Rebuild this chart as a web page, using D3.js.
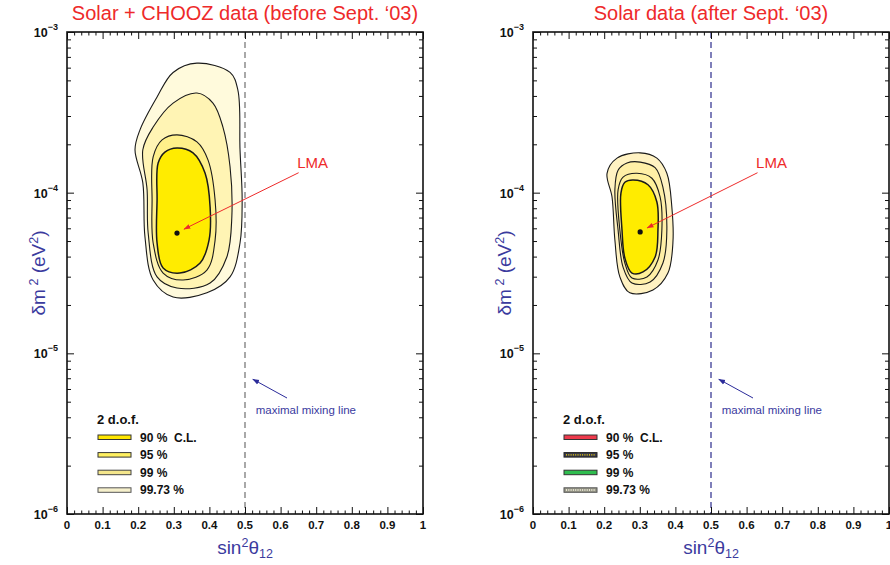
<!DOCTYPE html>
<html><head><meta charset="utf-8">
<script src="https://cdn.jsdelivr.net/npm/d3@7"></script>
<style>body{margin:0;background:#fff}svg{display:block}</style>
</head><body>
<svg id="c" width="890" height="565"></svg>
<script>
// ---------- DATA ----------
const titles = ["Solar + CHOOZ data (before Sept. \u201803)", "Solar data (after Sept. \u201803)"];
const xTickLabels = ["0","0.1","0.2","0.3","0.4","0.5","0.6","0.7","0.8","0.9","1"];
const yTickValues = [1e-3, 1e-4, 1e-5, 1e-6];
const yTickExps = ["\u22123","\u22124","\u22125","\u22126"];
const clLabels = ["90 %  C.L.", "95 %", "99 %", "99.73 %"];

// Left panel contours: [sin^2 theta12, dm^2 (eV^2)]
const leftCL9973 = [[0.365,6.4e-4],[0.458,5.6e-4],[0.480,4.35e-4],[0.486,1.85e-4],[0.492,9.0e-5],[0.486,4.86e-5],[0.458,2.99e-5],[0.393,2.38e-5],[0.298,2.24e-5],[0.242,2.86e-5],[0.219,5.3e-5],[0.213,1.15e-4],[0.191,1.85e-4],[0.205,2.46e-4],[0.253,3.94e-4],[0.298,5.6e-4]];
const leftCL99 = [[0.365,4.17e-4],[0.410,3.61e-4],[0.438,2.56e-4],[0.458,1.45e-4],[0.463,7.06e-5],[0.449,3.98e-5],[0.402,2.74e-5],[0.309,2.55e-5],[0.253,2.99e-5],[0.228,5.61e-5],[0.225,1.04e-4],[0.213,1.85e-4],[0.242,2.56e-4],[0.298,3.61e-4]];
const leftCL95 = [[0.309,2.29e-4],[0.365,2.07e-4],[0.396,1.60e-4],[0.416,9.0e-5],[0.416,5.07e-5],[0.393,3.30e-5],[0.326,2.86e-5],[0.270,3.16e-5],[0.242,4.86e-5],[0.239,9.0e-5],[0.242,1.67e-4],[0.267,2.13e-4]];
const leftCL90 = [[0.309,1.90e-4],[0.354,1.77e-4],[0.388,1.32e-4],[0.402,8.15e-5],[0.399,5.07e-5],[0.374,3.65e-5],[0.317,3.16e-5],[0.270,3.40e-5],[0.253,4.86e-5],[0.253,9.0e-5],[0.256,1.53e-4],[0.275,1.79e-4]];
const leftBest = [0.309, 5.6e-5];

// Right panel contours
const rightCL9973 = [[0.301,1.77e-4],[0.348,1.64e-4],[0.376,1.32e-4],[0.390,8.15e-5],[0.393,4.86e-5],[0.379,3.16e-5],[0.337,2.48e-5],[0.272,2.38e-5],[0.244,2.99e-5],[0.230,5.07e-5],[0.222,9.4e-5],[0.208,1.32e-4],[0.236,1.64e-4]];
const rightCL99 = [[0.301,1.55e-4],[0.343,1.43e-4],[0.365,1.08e-4],[0.376,5.86e-5],[0.365,3.65e-5],[0.329,2.78e-5],[0.278,2.74e-5],[0.253,3.44e-5],[0.239,5.86e-5],[0.230,1.04e-4],[0.239,1.38e-4],[0.264,1.53e-4]];
const rightCL95 = [[0.292,1.32e-4],[0.334,1.23e-4],[0.357,9.4e-5],[0.362,5.86e-5],[0.351,3.81e-5],[0.320,2.99e-5],[0.278,2.94e-5],[0.258,3.65e-5],[0.244,5.86e-5],[0.239,1.04e-4],[0.253,1.25e-4]];
const rightCL90 = [[0.281,1.20e-4],[0.323,1.12e-4],[0.348,8.75e-5],[0.351,5.86e-5],[0.343,3.98e-5],[0.309,3.21e-5],[0.278,3.16e-5],[0.258,3.92e-5],[0.250,5.86e-5],[0.247,9.95e-5],[0.258,1.16e-4]];
const rightBest = [0.301, 5.7e-5];

// annotation anchor points (data coords)
const lmaLabelPos = [[0.69, 1.43e-4],[0.67, 1.43e-4]];
const mixArrow = [[0.618, 5.27e-6],[0.522, 6.9e-6]];
const mixTextPos = [0.53, 4.2e-6];

// ---------- DRAW ----------
const svg = d3.select("#c");
const FONT = "'Liberation Sans', Arial, Helvetica, sans-serif";
const panels = [
  {x0:67, x1:423, contours:[leftCL9973,leftCL99,leftCL95,leftCL90], best:leftBest,
   fills:["#fffadc","#fff4b4","#fff08a","#ffec00"], dash:"#707070",
   legend:[{fill:"#ffe600",stroke:"#333"},{fill:"#fff060",stroke:"#333"},{fill:"#f4e68c",stroke:"#444"},{fill:"#f6f0cc",stroke:"#555"}]},
  {x0:533, x1:889, contours:[rightCL9973,rightCL99,rightCL95,rightCL90], best:rightBest,
   fills:["#fff2c2","#ffefa6","#fff09a","#ffec00"], dash:"#2b2b8c",
   legend:[{fill:"#ee3a4c",stroke:"#333"},{fill:"#3a3a4a",stroke:"#222",dot:"#ffe000"},{fill:"#2fbd4f",stroke:"#333"},{fill:"#9a9a8a",stroke:"#555",dot:"#fffbe8"}]}
];

const defs = svg.append("defs");
function marker(id, color){
  defs.append("marker").attr("id",id).attr("viewBox","0 0 10 10").attr("refX",9).attr("refY",5)
    .attr("markerWidth",7).attr("markerHeight",7).attr("orient","auto-start-reverse")
    .append("path").attr("d","M0,1.5 L10,5 L0,8.5 z").attr("fill",color);
}
marker("arrRed","#ee2a2a");
marker("arrBlue","#2b2b9a");

panels.forEach((p, i) => {
  const top = 32, bottom = 514;
  const x = d3.scaleLinear().domain([0,1]).range([p.x0, p.x1]);
  const y = d3.scaleLog().domain([1e-6,1e-3]).range([bottom, top]);
  const g = svg.append("g");
  const cx = (p.x0 + p.x1)/2;

  // title
  g.append("text").attr("x", cx).attr("y", 20).attr("text-anchor","middle")
    .attr("font-family",FONT).attr("font-size",20).attr("fill","#ee2a2a").text(titles[i]);

  // contours
  const line = d3.line().x(d=>x(d[0])).y(d=>y(d[1])).curve(d3.curveCatmullRomClosed.alpha(0.5));
  p.contours.forEach((c, k) => {
    g.append("path").attr("d", line(c)).attr("fill", p.fills[k])
      .attr("stroke","#1a1a1a").attr("stroke-width", k===3 ? 1.5 : 1.1);
  });
  g.append("circle").attr("cx", x(p.best[0])).attr("cy", y(p.best[1])).attr("r", 2.6).attr("fill","#111");

  // dashed max mixing line
  g.append("line").attr("x1",x(0.5)).attr("x2",x(0.5)).attr("y1",top).attr("y2",bottom)
    .attr("stroke",p.dash).attr("stroke-width",1.2).attr("stroke-dasharray","6,4");

  // LMA label + arrow
  const lp = lmaLabelPos[i];
  g.append("text").attr("x", x(lp[0])).attr("y", y(lp[1])).attr("text-anchor","middle")
    .attr("font-family",FONT).attr("font-size",15).attr("fill","#ee2a2a").text("LMA");
  const ls = [x(lp[0]) - 14, y(lp[1]) + 5];
  const le = [x(p.best[0]) + 7, y(p.best[1]) - 4];
  g.append("line").attr("x1",ls[0]).attr("y1",ls[1]).attr("x2",le[0]).attr("y2",le[1])
    .attr("stroke","#ee2a2a").attr("stroke-width",1).attr("marker-end","url(#arrRed)");

  // maximal mixing annotation
  g.append("line").attr("x1",x(mixArrow[0][0])).attr("y1",y(mixArrow[0][1]))
    .attr("x2",x(mixArrow[1][0])).attr("y2",y(mixArrow[1][1]))
    .attr("stroke","#2b2b9a").attr("stroke-width",1).attr("marker-end","url(#arrBlue)");
  g.append("text").attr("x", x(mixTextPos[0])).attr("y", y(mixTextPos[1])).attr("font-family",FONT)
    .attr("font-size",11.5).attr("fill","#3a3aa0").text("maximal mixing line");

  // legend
  g.append("text").attr("x", p.x0+30).attr("y", 424).attr("font-family",FONT).attr("font-weight","bold")
    .attr("font-size",13).attr("fill","#111").text("2 d.o.f.");
  clLabels.forEach((lab, k) => {
    const ly = 437 + k*17.6;
    g.append("rect").attr("x", p.x0+31).attr("y", ly-2).attr("width",33).attr("height",4.5)
      .attr("fill", p.legend[k].fill).attr("stroke", p.legend[k].stroke).attr("stroke-width",1);
    if (p.legend[k].dot) {
      g.append("line").attr("x1",p.x0+33).attr("x2",p.x0+62).attr("y1",ly+0.25).attr("y2",ly+0.25)
        .attr("stroke",p.legend[k].dot).attr("stroke-width",1.4).attr("stroke-dasharray","1,1.3");
    }
    g.append("text").attr("x", p.x0+73).attr("y", ly+4.5).attr("font-family",FONT).attr("font-weight","bold")
      .attr("font-size",12).attr("fill","#111").attr("xml:space","preserve").text(lab);
  });

  // axes (ticks inward)
  const major = d3.range(0, 11).map(v => v/10);
  const minor = d3.range(0, 51).map(v => v/50).filter(v => Math.round(v*50) % 5 !== 0);
  const axStyle = sel => { sel.select(".domain").remove(); sel.selectAll("line").attr("stroke","#111").attr("stroke-width",1); sel.selectAll("text").remove(); };
  g.append("g").attr("transform",`translate(0,${bottom})`).call(d3.axisBottom(x).tickValues(major).tickSize(-7)).call(axStyle);
  g.append("g").attr("transform",`translate(0,${bottom})`).call(d3.axisBottom(x).tickValues(minor).tickSize(-3.5)).call(axStyle);
  g.append("g").attr("transform",`translate(0,${top})`).call(d3.axisTop(x).tickValues(major).tickSize(-7)).call(axStyle);
  g.append("g").attr("transform",`translate(0,${top})`).call(d3.axisTop(x).tickValues(minor).tickSize(-3.5)).call(axStyle);
  const yMinor = [];
  [1e-6,1e-5,1e-4].forEach(d => { for (let m=2;m<=9;m++) yMinor.push(d*m); });
  g.append("g").attr("transform",`translate(${p.x0},0)`).call(d3.axisLeft(y).tickValues(yTickValues).tickSize(-7)).call(axStyle);
  g.append("g").attr("transform",`translate(${p.x0},0)`).call(d3.axisLeft(y).tickValues(yMinor).tickSize(-4)).call(axStyle);
  g.append("g").attr("transform",`translate(${p.x1},0)`).call(d3.axisRight(y).tickValues(yTickValues).tickSize(-7)).call(axStyle);
  g.append("g").attr("transform",`translate(${p.x1},0)`).call(d3.axisRight(y).tickValues(yMinor).tickSize(-4)).call(axStyle);

  // frame
  g.append("rect").attr("x",p.x0).attr("y",top).attr("width",p.x1-p.x0).attr("height",bottom-top)
    .attr("fill","none").attr("stroke","#111").attr("stroke-width",1.6);

  // x tick labels
  xTickLabels.forEach((t, k) => {
    g.append("text").attr("x", x(major[k])).attr("y", bottom+15).attr("text-anchor","middle")
      .attr("font-family",FONT).attr("font-weight","bold").attr("font-size",11.5).attr("fill","#111").text(t);
  });
  // y tick labels
  yTickValues.forEach((v, k) => {
    const t = g.append("text").attr("x", p.x0-9).attr("y", y(v)+5).attr("text-anchor","end")
      .attr("font-family",FONT).attr("font-weight","bold").attr("font-size",12.5).attr("fill","#111");
    t.append("tspan").text("10");
    t.append("tspan").attr("dy",-7).attr("font-size",9).text(yTickExps[k]);
  });

  // axis titles
  const xt = g.append("text").attr("x", cx).attr("y", 554).attr("text-anchor","middle")
    .attr("font-family",FONT).attr("font-size",19).attr("fill","#3b3b9e");
  xt.append("tspan").text("sin");
  xt.append("tspan").attr("dy",-7).attr("font-size",12.5).text("2");
  xt.append("tspan").attr("dy",7).text("\u03b8");
  xt.append("tspan").attr("dy",4).attr("font-size",12.5).text("12");

  const yt = g.append("text").attr("transform",`translate(${p.x0-22},273) rotate(-90)`).attr("text-anchor","middle")
    .attr("font-family",FONT).attr("font-size",19).attr("fill","#3b3b9e");
  yt.append("tspan").text("\u03b4m");
  yt.append("tspan").attr("dy",-7).attr("font-size",12.5).text(" 2");
  yt.append("tspan").attr("dy",7).text(" (eV");
  yt.append("tspan").attr("dy",-7).attr("font-size",12.5).text("2");
  yt.append("tspan").attr("dy",7).text(")");
});
</script>
</body></html>
